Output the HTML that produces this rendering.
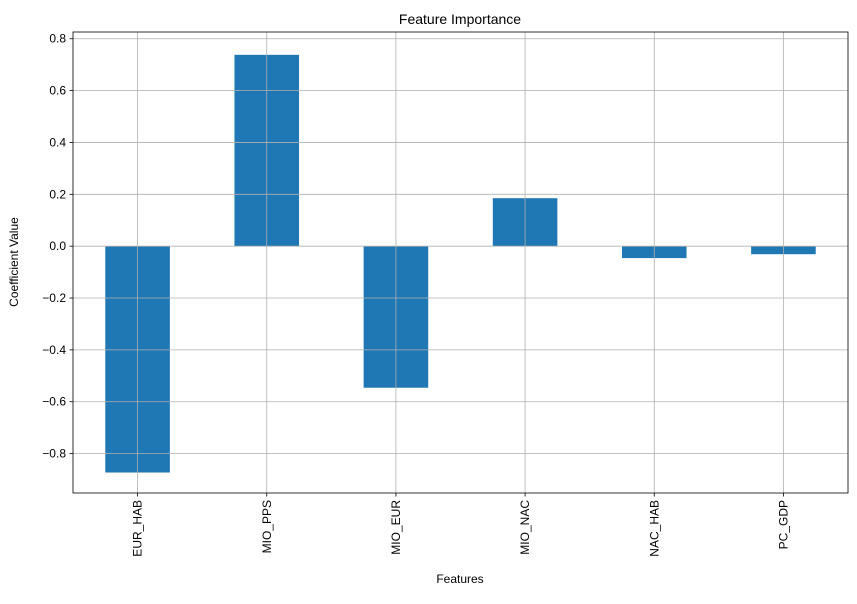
<!DOCTYPE html>
<html><head><meta charset="utf-8"><style>
body{margin:0;background:#fff;font-family:"Liberation Sans","DejaVu Sans",sans-serif}
</style></head><body>
<svg id="chart" width="857" height="599" xmlns="http://www.w3.org/2000/svg">
<g id="bars"></g>
<g id="grid"></g>
<g id="axes"></g>
<text x="460" y="24" text-anchor="middle" font-size="14">Feature Importance</text>
<text x="460" y="583" text-anchor="middle" font-size="12">Features</text>
<text transform="translate(18,262) rotate(-90)" text-anchor="middle" font-size="12">Coefficient Value</text>
</svg>
<script>
const categories=["EUR_HAB","MIO_PPS","MIO_EUR","MIO_NAC","NAC_HAB","PC_GDP"];
const values=[-0.873,0.738,-0.546,0.185,-0.046,-0.031];
const yTicks=[-0.8,-0.6,-0.4,-0.2,0.0,0.2,0.4,0.6,0.8];
const yTickLabels=["−0.8","−0.6","−0.4","−0.2","0.0","0.2","0.4","0.6","0.8"];
const L=73,R=848,T=32,B=493,yMin=-0.952,yMax=0.826;
const NS="http://www.w3.org/2000/svg";
const y=v=>B-(v-yMin)/(yMax-yMin)*(B-T);
const step=(R-L)/categories.length;
const x=i=>L+step*(i+0.5);
function mk(t,a,p){const e=document.createElementNS(NS,t);for(const k in a)e.setAttribute(k,a[k]);p.appendChild(e);return e;}
const bars=document.getElementById('bars'),grid=document.getElementById('grid'),axes=document.getElementById('axes');
values.forEach((v,i)=>{
 const r=mk('rect',{x:x(i)-step/4,width:step/2,y:Math.min(y(v),y(0)),height:Math.abs(y(v)-y(0)),fill:'#1f77b4'},bars);
 
 
});
yTicks.forEach((t,i)=>{
 const g=mk('line',{x1:L,x2:R,y1:y(t),y2:y(t),stroke:'#b0b0b0','stroke-width':0.8},grid);
 
 
 mk('line',{x1:L-3.5,x2:L,y1:y(t),y2:y(t),stroke:'#000','stroke-width':0.8},axes);
 const tx=mk('text',{x:L-7,y:y(t)+4,'text-anchor':'end','font-size':12},axes);
 tx.textContent=yTickLabels[i];
 
 
});
categories.forEach((c,i)=>{
 const g=mk('line',{x1:x(i),x2:x(i),y1:T,y2:B,stroke:'#b0b0b0','stroke-width':0.8},grid);
 
 
 mk('line',{x1:x(i),x2:x(i),y1:B,y2:B+3.5,stroke:'#000','stroke-width':0.8},axes);
 const tx=mk('text',{transform:`translate(${x(i)+4},${B+7}) rotate(-90)`,'text-anchor':'end','font-size':12},axes);
 tx.textContent=c;
 
 
});
const f=mk('rect',{x:L,y:T,width:R-L,height:B-T,fill:'none',stroke:'#000','stroke-width':0.8},axes);


</script>
</body></html>
